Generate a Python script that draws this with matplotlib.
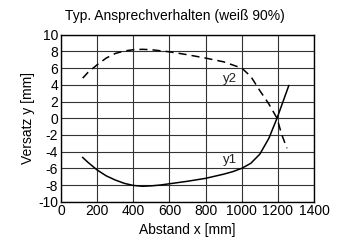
import matplotlib
matplotlib.use("Agg")
import matplotlib.pyplot as plt
from matplotlib import font_manager

x1 = [120, 150, 200, 250, 300, 350, 400, 450, 500, 550, 600, 700, 800, 900, 950, 1000, 1050, 1100, 1150, 1195, 1230, 1260]
y1 = [-4.7, -5.3, -6.2, -6.9, -7.4, -7.8, -8.05, -8.15, -8.1, -8.0, -7.85, -7.55, -7.2, -6.7, -6.4, -6.0, -5.4, -4.3, -2.4, 0.0, 2.1, 3.9]
x2 = [120, 150, 200, 250, 300, 350, 400, 450, 500, 600, 700, 800, 900, 1000, 1050, 1100, 1150, 1195, 1220, 1250]
y2 = [4.8, 5.5, 6.4, 7.2, 7.75, 8.05, 8.2, 8.25, 8.2, 7.95, 7.6, 7.2, 6.75, 6.0, 5.0, 3.3, 1.7, 0.0, -1.9, -3.6]
xticks = list(range(0, 1401, 200))
yticks = list(range(-10, 11, 2))

names = {f.name for f in font_manager.fontManager.ttflist}
fam = "Liberation Sans Narrow" if "Liberation Sans Narrow" in names else "Liberation Sans"
plt.rcParams['font.family'] = [fam, 'DejaVu Sans']
plt.rcParams['axes.unicode_minus'] = False

fig = plt.figure(figsize=(3.37, 2.41), dpi=100)
ax = fig.add_axes([0.181, 0.163, 0.751, 0.693])
ax.plot(x1, y1, color='black', lw=1.1)
ax.plot(x2, y2, color='black', lw=1.1, dashes=(5.3, 3.3))
ax.set_xlim(0, 1400)
ax.set_ylim(-10, 10)
ax.set_xticks(xticks)
ax.set_yticks(yticks)
ax.grid(True, color='#333333', lw=0.8)
ax.tick_params(length=0, labelsize=10, pad=2)
for s in ax.spines.values():
    s.set_linewidth(1.0)
ax.text(935, 4.7, 'y2', fontsize=9.5, ha='center', va='center', color='#222222')
ax.text(935, -5.0, 'y1', fontsize=9.5, ha='center', va='center', color='#222222')
ax.set_xlabel('Abstand x [mm]', fontsize=10, labelpad=3)
ax.set_ylabel('Versatz y [mm]', fontsize=10, labelpad=2)
fig.text(0.52, 0.935, 'Typ. Ansprechverhalten (weiß 90%)', fontsize=10, ha='center', va='center')
fig.savefig('out.png', dpi=100)
